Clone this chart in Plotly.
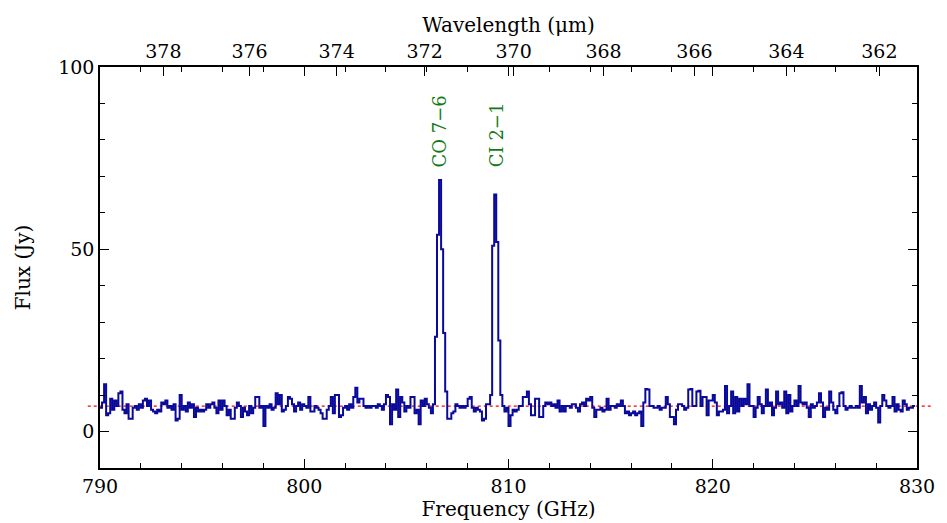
import numpy as np
import plotly.graph_objects as go

# ---------------- data ----------------
freq_start = 790.0          # GHz, left edge of first channel
chan_width = 0.1            # GHz

flux_790 = [6.5, 8.0, 13.0, 4.5, 5.0, 9.0, 6.0, 8.5, 7.0, 10.5]
flux_791 = [11.0, 6.0, 5.0, 7.5, 3.5, 3.5, 6.5, 7.0, 6.0, 7.5]
flux_792 = [6.5, 8.5, 9.0, 7.0, 8.5, 6.0, 5.5, 5.0, 6.0, 5.5]
flux_793 = [8.0, 7.5, 8.5, 6.5, 7.0, 6.0, 7.5, 3.0, 3.5, 10.0]
flux_794 = [6.0, 7.0, 5.5, 8.0, 6.5, 7.5, 4.0, 6.5, 5.5, 6.0]
flux_795 = [5.5, 6.0, 7.5, 6.5, 7.5, 8.0, 6.5, 5.0, 8.5, 6.0]
flux_796 = [8.5, 7.0, 4.5, 6.0, 3.5, 3.5, 6.5, 8.0, 7.0, 4.0]
flux_797 = [6.5, 5.5, 4.5, 7.0, 5.0, 6.5, 9.5, 9.5, 6.5, 7.0]
flux_798 = [1.5, 7.0, 6.5, 7.5, 6.0, 6.5, 10.5, 7.5, 10.0, 5.5]
flux_799 = [6.0, 7.0, 9.5, 9.0, 7.5, 5.5, 7.0, 8.0, 6.0, 7.5]
flux_800 = [7.0, 6.5, 9.5, 5.5, 5.5, 7.0, 6.5, 6.0, 5.0, 3.5]
flux_801 = [3.5, 6.0, 7.0, 9.5, 5.0, 10.0, 10.0, 4.0, 4.5, 6.5]
flux_802 = [7.0, 6.0, 7.5, 6.5, 9.5, 12.0, 8.0, 9.0, 9.0, 7.0]
flux_803 = [6.5, 7.0, 6.5, 7.0, 7.0, 6.5, 7.5, 7.0, 6.0, 7.5]
flux_804 = [10.0, 9.5, 2.0, 7.5, 6.0, 11.5, 4.0, 9.5, 8.0, 5.5]
flux_805 = [7.0, 6.5, 9.5, 9.5, 5.0, 6.0, 2.0, 8.5, 7.0, 9.0]
flux_806 = [7.5, 6.5, 5.0, 7.5, 26.0, 54.0, 69.0, 50.0, 27.0, 11.0]
flux_807 = [3.5, 3.5, 5.0, 5.5, 7.5, 7.0, 6.5, 7.0, 6.5, 7.0]
flux_808 = [9.0, 9.5, 6.5, 5.5, 6.5, 6.0, 5.5, 3.0, 3.5, 7.5]
flux_809 = [7.5, 10.0, 51.0, 65.0, 52.0, 25.0, 10.0, 7.0, 5.5, 6.5]
flux_810 = [1.5, 4.5, 6.0, 5.5, 6.0, 7.0, 7.0, 9.5, 9.5, 11.0]
flux_811 = [7.5, 4.5, 4.5, 9.0, 9.0, 4.0, 4.0, 7.0, 8.0, 7.5]
flux_812 = [8.0, 7.0, 7.5, 6.5, 8.5, 5.5, 7.0, 5.5, 7.0, 7.0]
flux_813 = [6.5, 7.5, 7.5, 6.5, 5.5, 7.5, 8.0, 7.0, 9.0, 8.5]
flux_814 = [9.5, 6.5, 4.0, 6.0, 6.0, 6.5, 5.5, 6.0, 9.0, 6.0]
flux_815 = [7.0, 7.0, 6.5, 7.5, 7.0, 8.5, 7.0, 5.0, 5.5, 4.5]
flux_816 = [5.0, 5.5, 4.5, 5.0, 5.5, 1.5, 8.0, 11.7, 11.5, 7.0]
flux_817 = [7.0, 6.5, 6.5, 7.0, 6.0, 6.5, 6.5, 9.5, 7.5, 4.0]
flux_818 = [4.0, 2.0, 6.0, 7.5, 7.5, 7.0, 6.0, 6.5, 11.5, 11.7]
flux_819 = [7.0, 7.0, 11.0, 11.2, 7.0, 9.5, 9.5, 4.5, 8.5, 8.5]
flux_820 = [10.0, 8.0, 4.5, 5.5, 5.5, 6.0, 12.5, 5.0, 7.0, 11.0]
flux_821 = [5.0, 9.5, 5.5, 9.0, 7.0, 9.0, 7.5, 13.0, 7.0, 7.0]
flux_822 = [4.0, 6.5, 9.5, 7.5, 5.0, 7.0, 11.5, 7.0, 8.0, 4.5]
flux_823 = [6.5, 11.0, 7.5, 8.0, 6.5, 11.0, 5.0, 10.0, 5.5, 7.0]
flux_824 = [8.5, 7.0, 12.5, 8.0, 7.5, 8.0, 6.5, 4.0, 7.5, 6.5]
flux_825 = [7.0, 8.0, 10.5, 8.0, 4.0, 6.5, 6.0, 11.0, 8.0, 6.0]
flux_826 = [5.0, 7.0, 10.5, 10.8, 7.0, 6.0, 6.5, 7.0, 6.5, 6.5]
flux_827 = [7.0, 6.5, 12.5, 8.0, 9.5, 5.0, 7.5, 6.0, 7.0, 8.0]
flux_828 = [6.5, 2.5, 7.0, 10.0, 8.5, 7.0, 6.5, 7.0, 9.5, 5.5]
flux_829 = [7.5, 6.0, 5.5, 8.5, 7.5, 6.0, 6.5, 6.5, 7.0]

continuum_level = 7.0   # Jy (red dotted line)

line_labels = ["CO 7\u22126", "CI 2\u22121"]
line_freqs = [806.62, 809.42]
label_flux = 72.0

wavelength_ticks = [378, 376, 374, 372, 370, 368, 366, 364, 362]
c_um_ghz = 299792.458

flux = (flux_790 + flux_791 + flux_792 + flux_793 + flux_794 + flux_795 + flux_796
        + flux_797 + flux_798 + flux_799 + flux_800 + flux_801 + flux_802 + flux_803
        + flux_804 + flux_805 + flux_806 + flux_807 + flux_808 + flux_809 + flux_810
        + flux_811 + flux_812 + flux_813 + flux_814 + flux_815 + flux_816 + flux_817
        + flux_818 + flux_819 + flux_820 + flux_821 + flux_822 + flux_823 + flux_824
        + flux_825 + flux_826 + flux_827 + flux_828 + flux_829)

n = len(flux)
edges = np.round(freq_start + chan_width * np.arange(n + 1), 3)
yvals = flux + [flux[-1]]

FONT = "DejaVu Serif"
BLUE = "#0a0a9a"
GREEN = "#137a13"

fig = go.Figure()
fig.add_trace(go.Scatter(x=edges, y=yvals, mode="lines", line_shape="hv",
                         line=dict(color=BLUE, width=2.0), showlegend=False,
                         hoverinfo="skip"))
# dummy trace to activate the top axis
fig.add_trace(go.Scatter(x=[790, 830], y=[None, None], xaxis="x2", mode="lines",
                         showlegend=False, hoverinfo="skip"))

fig.add_shape(type="line", xref="paper", yref="y", x0=-0.015, x1=1.02,
              y0=continuum_level, y1=continuum_level,
              line=dict(color="red", width=1.2, dash="dot"), layer="below")

for lab, f in zip(line_labels, line_freqs):
    fig.add_annotation(x=f, y=label_flux, text=lab, textangle=-90, showarrow=False,
                       xanchor="center", yanchor="bottom",
                       font=dict(family=FONT, size=18, color=GREEN))

TICKFONT = dict(family=FONT, size=19, color="black")
TITLEFONT = dict(family=FONT, size=20, color="black")

axis_common = dict(showgrid=False, zeroline=False, showline=True, linecolor="black",
                   linewidth=1.6, tickcolor="black", tickwidth=1.3,
                   tickfont=TICKFONT)

fig.update_layout(
    width=947, height=523,
    margin=dict(l=100, r=22, t=67, b=53),
    paper_bgcolor="white", plot_bgcolor="white",
    xaxis=dict(range=[790, 830], tickvals=[790, 800, 810, 820, 830],
               ticks="inside", ticklen=9, mirror="ticks",
               minor=dict(dtick=2, ticks="inside", ticklen=5, tickcolor="black"),
               title=dict(text="Frequency (GHz)", standoff=0, font=TITLEFONT),
               **axis_common),
    xaxis2=dict(range=[790, 830], overlaying="x", side="top",
                tickvals=[c_um_ghz / w for w in wavelength_ticks],
                ticktext=[str(w) for w in wavelength_ticks],
                ticks="inside", ticklen=9,
                title=dict(text="Wavelength (\u03bcm)", standoff=2, font=TITLEFONT),
                **axis_common),
    yaxis=dict(range=[-10, 100], tickvals=[0, 50, 100], ticks="inside", ticklen=9,
               mirror="ticks",
               minor=dict(dtick=10, ticks="inside", ticklen=5, tickcolor="black"),
               title=dict(text="Flux (Jy)", standoff=22, font=TITLEFONT),
               **axis_common),
)

fig.write_html("out.html")
